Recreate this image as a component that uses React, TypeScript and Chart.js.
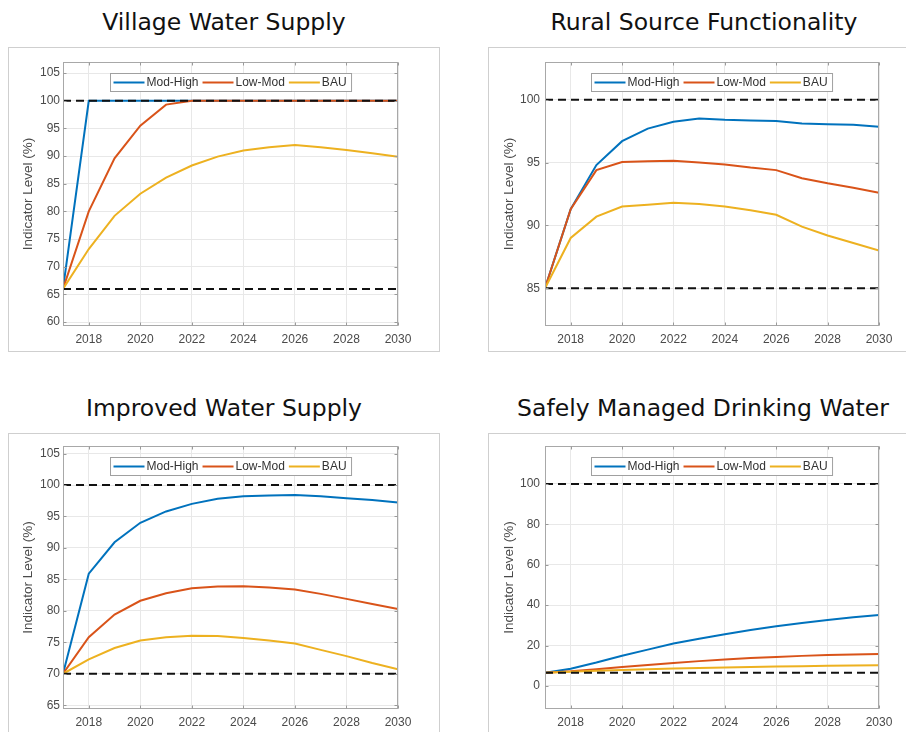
import React, { useEffect, useRef } from "react";
import { Chart, registerables } from "chart.js";

Chart.register(...registerables);

// ---------- DATA ----------
const years = [2017, 2018, 2019, 2020, 2021, 2022, 2023, 2024, 2025, 2026, 2027, 2028, 2029, 2030];
const xTickValues = [2018, 2020, 2022, 2024, 2026, 2028, 2030];
const seriesNames = ["Mod-High", "Low-Mod", "BAU"];
const seriesColors = ["#0072BD", "#D95319", "#EDB120"];
const yAxisTitle = "Indicator Level (%)";

// Village Water Supply
const villageTitle = "Village Water Supply";
const villageModHigh = [66, 100, 100, 100, 100, 100, 100, 100, 100, 100, 100, 100, 100, 100];
const villageLowMod = [66, 80, 89.6, 95.5, 99.3, 100, 100, 100, 100, 100, 100, 100, 100, 100];
const villageBAU = [66, 73.2, 79.2, 83.2, 86.1, 88.3, 89.9, 91, 91.6, 92, 91.6, 91.1, 90.5, 89.9];
const villageRefs = [100, 66];
const villageYTicks = [60, 65, 70, 75, 80, 85, 90, 95, 100, 105];
const villageYRange = [59.3, 107];

// Rural Source Functionality
const ruralTitle = "Rural Source Functionality";
const ruralModHigh = [85, 91.3, 94.8, 96.7, 97.7, 98.25, 98.5, 98.4, 98.35, 98.3, 98.1, 98.05, 98.0, 97.85];
const ruralLowMod = [85, 91.3, 94.4, 95.05, 95.1, 95.15, 95.0, 94.85, 94.6, 94.4, 93.75, 93.35, 93.0, 92.6];
const ruralBAU = [85, 89.0, 90.7, 91.5, 91.65, 91.8, 91.7, 91.5, 91.2, 90.85, 89.9, 89.2, 88.6, 88.0];
const ruralRefs = [100, 85];
const ruralYTicks = [85, 90, 95, 100];
const ruralYRange = [82, 103];

// Improved Water Supply
const improvedTitle = "Improved Water Supply";
const improvedModHigh = [70, 85.9, 90.9, 94.0, 95.8, 97.0, 97.8, 98.2, 98.35, 98.4, 98.2, 97.9, 97.6, 97.2];
const improvedLowMod = [70, 75.8, 79.4, 81.6, 82.8, 83.6, 83.85, 83.9, 83.7, 83.4, 82.7, 81.9, 81.1, 80.3];
const improvedBAU = [70, 72.3, 74.1, 75.3, 75.8, 76.05, 76.0, 75.7, 75.3, 74.8, 73.8, 72.8, 71.7, 70.7];
const improvedRefs = [100, 70];
const improvedYTicks = [65, 70, 75, 80, 85, 90, 95, 100, 105];
const improvedYRange = [64.4, 106.2];

// Safely Managed Drinking Water
const safelyTitle = "Safely Managed Drinking Water";
const safelyModHigh = [6.6, 8.5, 11.6, 15.0, 18.0, 21.0, 23.4, 25.6, 27.7, 29.6, 31.2, 32.7, 34.0, 35.1];
const safelyLowMod = [6.6, 7.3, 8.3, 9.4, 10.4, 11.4, 12.3, 13.1, 13.8, 14.4, 14.9, 15.3, 15.6, 15.8];
const safelyBAU = [6.6, 7.0, 7.5, 7.9, 8.3, 8.6, 8.9, 9.1, 9.4, 9.6, 9.8, 9.95, 10.1, 10.2];
const safelyRefs = [100, 6.6];
const safelyYTicks = [0, 20, 40, 60, 80, 100];
const safelyYRange = [-11.4, 118.8];

// ---------- LAYOUT ----------
type PanelDef = {
  title: string;
  series: number[][];
  refs: number[];
  yTicks: number[];
  yRange: number[];
  left: number;
  top: number;
  width: number;
  height: number;
  frameW: number;
  frameH: number;
  axisW: number;
  padTop: number;
  padRight: number;
  xAxisH: number;
  titleCx: number;
  titleTop: number;
  yTitlePad: number;
  yTickPad: number;
  legendOffset: number;
};

const panels: PanelDef[] = [
  {
    title: villageTitle,
    series: [villageModHigh, villageLowMod, villageBAU],
    refs: villageRefs,
    yTicks: villageYTicks,
    yRange: villageYRange,
    left: 8, top: 47, width: 431, height: 304, frameW: 432, frameH: 305,
    axisW: 55, padTop: 15, padRight: 41, xAxisH: 25,
    titleCx: 224, titleTop: 8, yTitlePad: 12, yTickPad: 3, legendOffset: 11,
  },
  {
    title: ruralTitle,
    series: [ruralModHigh, ruralLowMod, ruralBAU],
    refs: ruralRefs,
    yTicks: ruralYTicks,
    yRange: ruralYRange,
    left: 488, top: 47, width: 418, height: 304, frameW: 440, frameH: 305,
    axisW: 57, padTop: 15, padRight: 27, xAxisH: 25,
    titleCx: 704, titleTop: 8, yTitlePad: 13, yTickPad: 5, legendOffset: 11,
  },
  {
    title: improvedTitle,
    series: [improvedModHigh, improvedLowMod, improvedBAU],
    refs: improvedRefs,
    yTicks: improvedYTicks,
    yRange: improvedYRange,
    left: 8, top: 433, width: 431, height: 299, frameW: 432, frameH: 320,
    axisW: 55, padTop: 13, padRight: 41, xAxisH: 23,
    titleCx: 224, titleTop: 394, yTitlePad: 12, yTickPad: 3, legendOffset: 11,
  },
  {
    title: safelyTitle,
    series: [safelyModHigh, safelyLowMod, safelyBAU],
    refs: safelyRefs,
    yTicks: safelyYTicks,
    yRange: safelyYRange,
    left: 488, top: 433, width: 418, height: 299, frameW: 440, frameH: 320,
    axisW: 57, padTop: 13, padRight: 27, xAxisH: 23,
    titleCx: 703, titleTop: 394, yTitlePad: 13, yTickPad: 5, legendOffset: 11,
  },
];

const TICK_FONT = '"Liberation Sans", Arial, Helvetica, sans-serif';
const TEXT_GRAY = "#4a4a4a";

const boxPlugin = {
  id: "matlabBox",
  afterDatasetsDraw(chart: any) {
    const { ctx, chartArea } = chart;
    const l = Math.round(chartArea.left) + 0.5;
    const t = Math.round(chartArea.top) + 0.5;
    const r = Math.round(chartArea.right) - 0.5;
    const b = Math.round(chartArea.bottom) - 0.5;
    ctx.save();
    ctx.strokeStyle = "#a8a8a8";
    ctx.lineWidth = 1;
    ctx.strokeRect(l, t, r - l, b - t);
    // inward tick marks
    ctx.strokeStyle = "#9a9a9a";
    const xs = chart.scales.x;
    const ys = chart.scales.y;
    ctx.beginPath();
    xs.ticks.forEach((tk: any) => {
      const px = Math.round(xs.getPixelForValue(tk.value)) + 0.5;
      ctx.moveTo(px, b);
      ctx.lineTo(px, b - 3);
      ctx.moveTo(px, t);
      ctx.lineTo(px, t + 3);
    });
    ys.ticks.forEach((tk: any) => {
      const py = Math.round(ys.getPixelForValue(tk.value)) + 0.5;
      ctx.moveTo(l, py);
      ctx.lineTo(l + 3, py);
      ctx.moveTo(r, py);
      ctx.lineTo(r - 3, py);
    });
    ctx.stroke();
    ctx.restore();
  },
};

const legendPlugin = {
  id: "matlabLegend",
  afterDraw(chart: any) {
    const { ctx, chartArea } = chart;
    const offset = chart.options.plugins.matlabLegend?.offset ?? 11;
    const items = chart.data.datasets.filter((d: any) => d.label);
    ctx.save();
    ctx.font = `12px ${TICK_FONT}`;
    const lineLen = 31;
    const gap = 2;
    const after = 4;
    const padL = 3;
    let total = padL;
    items.forEach((it: any) => {
      total += lineLen + gap + ctx.measureText(it.label).width + after;
    });
    total += 1;
    const boxH = 18;
    const x0 = Math.round((chartArea.left + chartArea.right) / 2 - total / 2) + 0.5;
    const y0 = Math.round(chartArea.top + offset) + 0.5;
    ctx.fillStyle = "#ffffff";
    ctx.fillRect(x0, y0, total, boxH);
    ctx.strokeStyle = "#a0a0a0";
    ctx.lineWidth = 1;
    ctx.strokeRect(x0, y0, total, boxH);
    let x = x0 + padL;
    const cy = y0 + boxH / 2;
    items.forEach((it: any) => {
      ctx.strokeStyle = it.borderColor;
      ctx.lineWidth = 2;
      ctx.beginPath();
      ctx.moveTo(x, cy);
      ctx.lineTo(x + lineLen, cy);
      ctx.stroke();
      x += lineLen + gap;
      ctx.fillStyle = "#333333";
      ctx.textBaseline = "middle";
      ctx.textAlign = "left";
      ctx.fillText(it.label, x, cy + 0.5);
      x += ctx.measureText(it.label).width + after;
    });
    ctx.restore();
  },
};

function Panel({ p }: { p: PanelDef }) {
  const ref = useRef<HTMLCanvasElement>(null);
  useEffect(() => {
    const seriesSets = p.series.map((vals, i) => ({
      label: seriesNames[i],
      data: years.map((yr, k) => ({ x: yr, y: vals[k] })),
      borderColor: seriesColors[i],
      backgroundColor: seriesColors[i],
      borderWidth: 2,
      pointRadius: 0,
      tension: 0,
      fill: false,
      order: 3 - i,
    }));
    const refSets = p.refs.map((v) => ({
      label: "",
      data: [
        { x: years[0], y: v },
        { x: years[years.length - 1], y: v },
      ],
      borderColor: "#111111",
      borderWidth: 2,
      borderDash: [8, 5],
      pointRadius: 0,
      fill: false,
      order: 0,
    }));
    const chart = new Chart(ref.current as HTMLCanvasElement, {
      type: "line",
      data: { datasets: [...seriesSets, ...refSets] as any },
      options: {
        animation: false,
        responsive: false,
        maintainAspectRatio: false,
        layout: { padding: { top: p.padTop, right: p.padRight, left: 0, bottom: 0 } },
        plugins: {
          legend: { display: false },
          title: { display: false },
          tooltip: { enabled: false },
          matlabLegend: { offset: p.legendOffset },
        } as any,
        scales: {
          x: {
            type: "linear",
            min: years[0],
            max: years[years.length - 1],
            afterBuildTicks: (s: any) => {
              s.ticks = xTickValues.map((v) => ({ value: v }));
            },
            afterFit: (s: any) => {
              s.height = p.xAxisH;
            },
            ticks: {
              callback: (v: any) => String(v),
              font: { family: TICK_FONT, size: 12 },
              color: TEXT_GRAY,
              padding: 6,
              maxRotation: 0,
              autoSkip: false,
            },
            grid: { color: "#e8e8e8", lineWidth: 1, drawTicks: false },
            border: { display: false },
          },
          y: {
            type: "linear",
            min: p.yRange[0],
            max: p.yRange[1],
            afterBuildTicks: (s: any) => {
              s.ticks = p.yTicks.map((v) => ({ value: v }));
            },
            afterFit: (s: any) => {
              s.width = p.axisW;
            },
            ticks: {
              callback: (v: any) => String(v),
              font: { family: TICK_FONT, size: 12 },
              color: TEXT_GRAY,
              padding: p.yTickPad,
              autoSkip: false,
            },
            grid: { color: "#e8e8e8", lineWidth: 1, drawTicks: false },
            border: { display: false },
            title: {
              display: true,
              text: yAxisTitle,
              font: { family: TICK_FONT, size: 13.5 },
              color: TEXT_GRAY,
              padding: { top: p.yTitlePad, bottom: 0 },
            },
          },
        },
      } as any,
      plugins: [boxPlugin, legendPlugin],
    });
    return () => chart.destroy();
  }, [p]);

  return (
    <>
      <div
        style={{
          position: "absolute",
          left: p.titleCx - 220,
          width: 440,
          top: p.titleTop,
          textAlign: "center",
          fontFamily: '"DejaVu Sans", Verdana, sans-serif',
          fontSize: "23.5px",
          lineHeight: "28px",
          color: "#111111",
          whiteSpace: "nowrap",
        }}
      >
        {p.title}
      </div>
      <div
        style={{
          position: "absolute",
          left: p.left,
          top: p.top,
          width: p.frameW,
          height: p.frameH,
          border: "1px solid #cfcfcf",
          boxSizing: "border-box",
        }}
      />
      <canvas
        ref={ref}
        width={p.width}
        height={p.height}
        style={{ position: "absolute", left: p.left, top: p.top, width: p.width, height: p.height }}
      />
    </>
  );
}

export default function App() {
  return (
    <div
      style={{
        position: "fixed",
        left: 0,
        top: 0,
        width: 906,
        height: 732,
        overflow: "hidden",
        background: "#ffffff",
      }}
    >
      {panels.map((p, i) => (
        <Panel key={i} p={p} />
      ))}
    </div>
  );
}
